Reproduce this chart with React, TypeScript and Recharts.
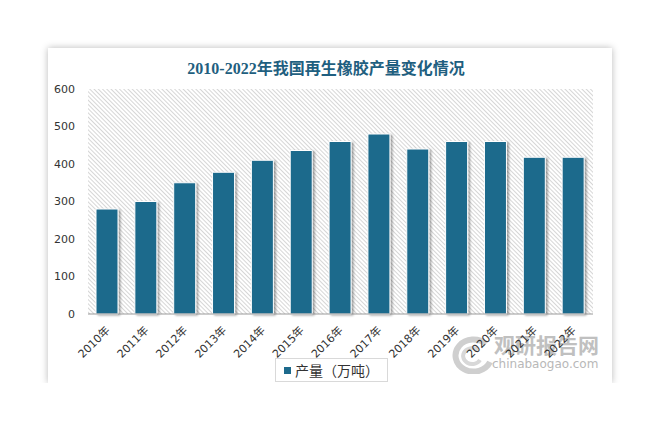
import React from 'react';
import { Bar, BarChart, CartesianGrid, XAxis, YAxis } from 'recharts';

const TITLE = '2010-2022年我国再生橡胶产量变化情况';
const SERIES_NAME = '产量（万吨）';

const years = [
  '2010年', '2011年', '2012年', '2013年', '2014年', '2015年', '2016年',
  '2017年', '2018年', '2019年', '2020年', '2021年', '2022年',
];
const output = [280, 300, 350, 378, 410, 436, 460, 480, 440, 460, 460, 418, 418];
const yTicks = [0, 100, 200, 300, 400, 500, 600];

const chartData = years.map((year, i) => ({ year, output: output[i] }));

const BAR = '#1d6a8c';
const TEXT = '#333';
const CJK = '"DejaVu Sans", "Noto Sans CJK SC", sans-serif';

function YearTick({ x, y, payload }: any) {
  const px = x + 3;
  const py = y + 17;
  return (
    <text
      x={px}
      y={py}
      textAnchor="end"
      fontSize={11}
      fill={TEXT}
      fontFamily={CJK}
      transform={`rotate(-45, ${px}, ${py})`}
    >
      {payload.value}
    </text>
  );
}

function Watermark() {
  return (
    <div style={{ position: 'absolute', left: 398, top: 284, color: '#c0c0c0' }}>
      <svg width={48} height={40} style={{ position: 'absolute', left: 0, top: 2 }}>
        <path d="M40 10 A18 16 0 1 0 44 28" fill="none" stroke="#cfcfcf" strokeWidth={6} />
        <path d="M32 16 A9 8 0 1 0 34 26" fill="none" stroke="#d8d8d8" strokeWidth={4} />
      </svg>
      <div
        style={{
          position: 'absolute',
          left: 48,
          top: 0,
          fontSize: 21,
          fontWeight: 'bold',
          fontFamily: '"Noto Sans CJK SC", sans-serif',
          whiteSpace: 'nowrap',
          lineHeight: '24px',
        }}
      >
        观研报告网
      </div>
      <div
        style={{
          position: 'absolute',
          left: 46,
          top: 25,
          fontSize: 12,
          fontFamily: '"DejaVu Sans", sans-serif',
          whiteSpace: 'nowrap',
          lineHeight: '14px',
          color: '#b8b8b8',
        }}
      >
        chinabaogao.com
      </div>
    </div>
  );
}

export default function App() {
  return (
    <div
      style={{
        position: 'relative',
        marginLeft: 40,
        marginTop: 40,
        width: 564,
        height: 335,
        background: '#fff',
        boxShadow: '0 0 7px rgba(0,0,0,0.28)',
      }}
    >
      <div
        style={{
          position: 'absolute',
          left: 0,
          top: 11,
          width: 556,
          textAlign: 'center',
          fontSize: 16,
          lineHeight: '20px',
          fontWeight: 'bold',
          color: '#1f5f80',
          fontFamily: '"Liberation Serif", "Noto Sans CJK SC", serif',
        }}
      >
        {TITLE}
      </div>
      <Watermark />
      <div style={{ position: 'absolute', left: 0, top: 0 }}>
        <BarChart
          width={564}
          height={335}
          data={chartData}
          margin={{ top: 41, right: 19, left: 0, bottom: 0 }}
        >
          <defs>
            <pattern
              id="hatch"
              patternUnits="userSpaceOnUse"
              width={3}
              height={3}
              patternTransform="rotate(-45)"
            >
              <rect width={3} height={3} fill="#ffffff" />
              <line x1={0.5} y1={0} x2={0.5} y2={3} stroke="#d6d6d6" strokeWidth={1} />
            </pattern>
            <filter id="barShadow" x="-30%" y="-5%" width="170%" height="115%">
              <feDropShadow dx={2} dy={1} stdDeviation={1.3} floodColor="#000" floodOpacity={0.35} />
            </filter>
          </defs>
          <CartesianGrid horizontal={false} vertical={false} fill="url(#hatch)" />
          <XAxis
            dataKey="year"
            height={69}
            interval={0}
            tickLine={false}
            tickSize={0}
            tickMargin={0}
            axisLine={{ stroke: '#9a9a9a' }}
            tick={<YearTick />}
          />
          <YAxis
            width={40}
            domain={[0, 600]}
            ticks={yTicks}
            axisLine={false}
            tickLine={false}
            tickSize={0}
            tickMargin={13}
            tick={{ fontSize: 11, fill: TEXT, fontFamily: '"DejaVu Sans", sans-serif' }}
          />
          <Bar
            dataKey="output"
            name={SERIES_NAME}
            fill={BAR}
            stroke="#ffffff"
            strokeWidth={1}
            barSize={22}
            filter="url(#barShadow)"
            isAnimationActive={false}
          />
        </BarChart>
      </div>
      <div
        style={{
          position: 'absolute',
          left: 227,
          top: 310,
          width: 111,
          height: 22,
          border: '1px solid #d9d9d9',
          display: 'flex',
          alignItems: 'center',
          justifyContent: 'center',
          gap: 4,
          fontSize: 14,
          color: TEXT,
          fontFamily: '"Noto Sans CJK SC", sans-serif',
          background: '#fff',
        }}
      >
        <span style={{ width: 7, height: 7, background: BAR, display: 'inline-block' }} />
        <span>{SERIES_NAME}</span>
      </div>
    </div>
  );
}
